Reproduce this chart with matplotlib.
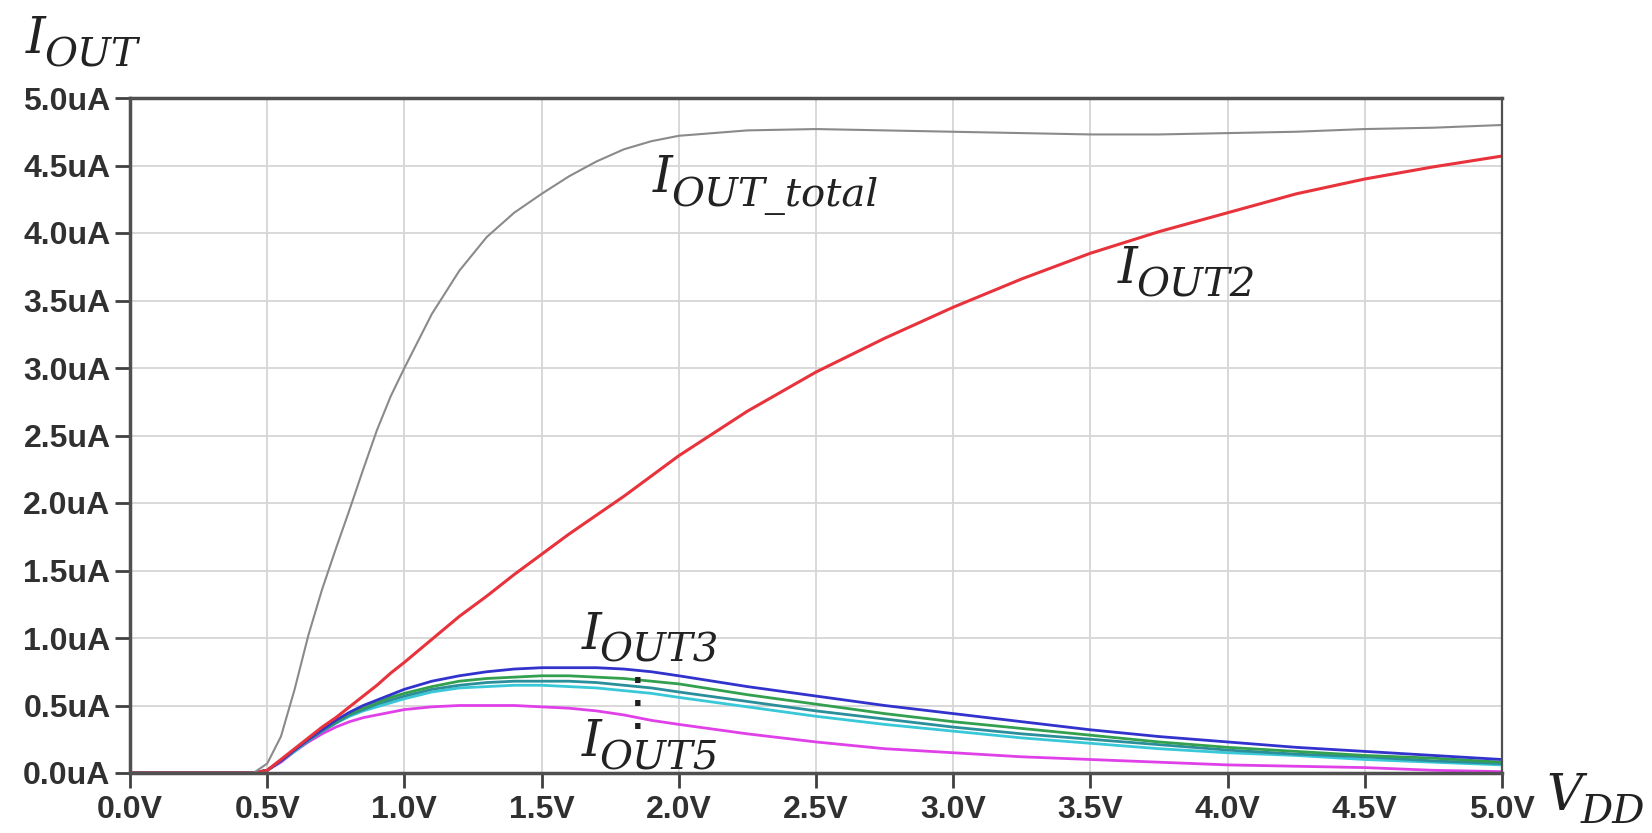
import matplotlib
matplotlib.use("Agg")
import matplotlib.pyplot as plt

# supply voltage sweep (V) and output currents (uA)
vdd = [0.0, 0.45, 0.5, 0.55, 0.6, 0.65, 0.7, 0.75, 0.8, 0.85, 0.9, 0.95, 1.0,
       1.1, 1.2, 1.3, 1.4, 1.5, 1.6, 1.7, 1.8, 1.9, 2.0,
       2.25, 2.5, 2.75, 3.0, 3.25, 3.5, 3.75, 4.0, 4.25, 4.5, 4.75, 5.0]

i_total = [0, 0, .07, .27, .62, 1.02, 1.36, 1.66, 1.95, 2.25, 2.54, 2.79, 3.0,
           3.4, 3.72, 3.97, 4.15, 4.29, 4.42, 4.53, 4.62, 4.68, 4.72,
           4.76, 4.77, 4.76, 4.75, 4.74, 4.73, 4.73, 4.74, 4.75, 4.77, 4.78, 4.80]
i_out2 = [0, 0, .02, .1, .18, .26, .34, .41, .49, .57, .65, .74, .82,
          .99, 1.16, 1.31, 1.47, 1.62, 1.77, 1.91, 2.05, 2.2, 2.35,
          2.68, 2.97, 3.22, 3.45, 3.66, 3.85, 4.01, 4.15, 4.29, 4.40, 4.49, 4.57]
i_out3 = [0, 0, .02, .09, .17, .25, .32, .39, .45, .50, .54, .58, .62,
          .68, .72, .75, .77, .78, .78, .78, .77, .75, .72,
          .64, .57, .50, .44, .38, .32, .27, .23, .19, .16, .13, .10]
i_out3b = [0, 0, .02, .09, .17, .25, .32, .38, .44, .48, .52, .56, .59,
           .64, .68, .70, .71, .72, .72, .71, .70, .68, .66,
           .58, .51, .44, .38, .33, .28, .23, .19, .16, .13, .11, .08]
i_out4 = [0, 0, .02, .09, .17, .24, .31, .37, .43, .47, .51, .54, .57,
          .62, .65, .67, .68, .68, .68, .67, .65, .63, .60,
          .53, .46, .40, .34, .29, .25, .21, .17, .14, .12, .09, .07]
i_out4b = [0, 0, .02, .09, .16, .24, .31, .37, .42, .46, .49, .52, .55,
           .60, .63, .64, .65, .65, .64, .63, .61, .59, .56,
           .49, .42, .36, .31, .26, .22, .18, .15, .13, .10, .08, .06]
i_out5 = [0, 0, .02, .08, .16, .23, .29, .34, .38, .41, .43, .45, .47,
          .49, .50, .50, .50, .49, .48, .46, .43, .39, .36,
          .29, .23, .18, .15, .12, .10, .08, .06, .05, .04, .02, .01]

x_ticks = [0.0, 0.5, 1.0, 1.5, 2.0, 2.5, 3.0, 3.5, 4.0, 4.5, 5.0]
y_ticks = [0.0, 0.5, 1.0, 1.5, 2.0, 2.5, 3.0, 3.5, 4.0, 4.5, 5.0]

fig = plt.figure(figsize=(16.52, 8.33), dpi=100)
ax = fig.add_axes([130 / 1652, 60 / 833, 1372 / 1652, 675 / 833])

small = [(i_out5, '#e040e8'), (i_out4b, '#38c8d8'), (i_out4, '#2a8f9a'),
         (i_out3b, '#33a050'), (i_out3, '#3232cc')]
for ys, c in small:
    ax.plot(vdd, ys, color=c, lw=2.0)
ax.plot(vdd, i_out2, color='#e8323c', lw=2.2)
ax.plot(vdd, i_total, color='#8a8a8a', lw=1.5)

ax.set_xlim(0, 5)
ax.set_ylim(0, 5)
ax.set_xticks(x_ticks)
ax.set_yticks(y_ticks)
ax.set_xticklabels([f"{v:.1f}V" for v in x_ticks])
ax.set_yticklabels([f"{v:.1f}uA" for v in y_ticks])
ax.grid(True, color='#d6d6d6', lw=1.3)
ax.set_axisbelow(True)
ax.tick_params(length=11, width=2, color='#404040', labelsize=23)
ax.tick_params(axis='x', pad=5)
ax.tick_params(axis='y', pad=3)
for lab in ax.get_xticklabels() + ax.get_yticklabels():
    lab.set_family('Liberation Sans')
    lab.set_fontweight('bold')
    lab.set_color('#303030')
for s in ax.spines.values():
    s.set_color('#505050')
    s.set_linewidth(2.5)
ax.spines['right'].set_linewidth(1.6)

serif = dict(family='DejaVu Serif', style='italic', color='#222222')


def label(x, y, main, sub, **kw):
    t = ax.text(x, y, main, fontsize=36, va='baseline', ha='left', **serif, **kw)
    ax.annotate(sub, xy=(1, 0), xycoords=t, xytext=(-1, -1.5), textcoords='offset points',
                fontsize=29, va='baseline', ha='left', annotation_clip=False, **serif)


label(1.905, 4.30, 'I', 'OUT_total')
label(3.60, 3.63, 'I', 'OUT2')
label(1.645, 0.92, 'I', 'OUT3')
label(1.645, 0.126, 'I', 'OUT5')
ax.text(1.85, 0.50, '\u00b7\n\u00b7\n\u00b7', fontsize=22, fontweight='bold', linespacing=0.72,
        ha='center', va='center', color='#202020')

label(26 / 1652, 1 - 53 / 833, 'I', 'OUT', transform=fig.transFigure)
label(1546 / 1652, 1 - 810 / 833, 'V', 'DD', transform=fig.transFigure)

fig.savefig('out.png', dpi=100)
